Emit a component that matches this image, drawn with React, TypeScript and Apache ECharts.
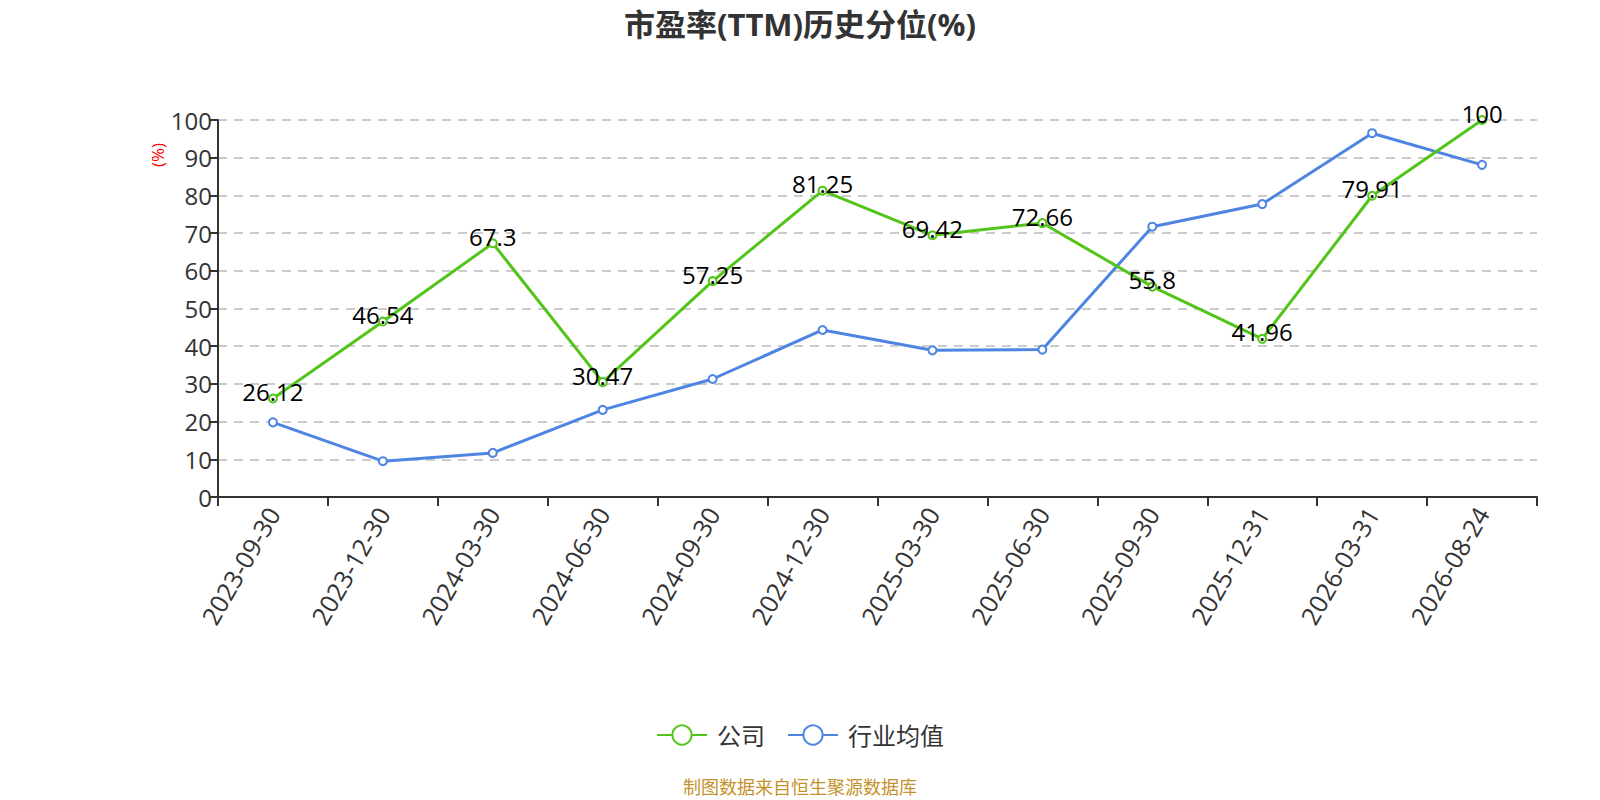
import React, { useEffect, useRef } from "react";
import * as echarts from "echarts";

const categories = [
  "2023-09-30", "2023-12-30", "2024-03-30", "2024-06-30", "2024-09-30", "2024-12-30",
  "2025-03-30", "2025-06-30", "2025-09-30", "2025-12-31", "2026-03-31", "2026-08-24",
];
const companyValues = [26.12, 46.54, 67.3, 30.47, 57.25, 81.25, 69.42, 72.66, 55.8, 41.96, 79.91, 100];
const industryValues = [19.8, 9.5, 11.7, 23.1, 31.3, 44.3, 38.9, 39.1, 71.7, 77.7, 96.5, 88.1];
const seriesNames = ["公司", "行业均值"];
const titleText = "市盈率(TTM)历史分位(%)";
const footerText = "制图数据来自恒生聚源数据库";

const FONT = "'Open Sans', 'Noto Sans CJK SC', sans-serif";

export default function App() {
  const ref = useRef<HTMLDivElement>(null);
  useEffect(() => {
    document.body.style.margin = "0";
    document.body.style.overflow = "hidden";
    if (!ref.current) return;
    const chart = echarts.init(ref.current, undefined, { renderer: "svg" });
    chart.setOption({
      animation: false,
      textStyle: { fontFamily: FONT },
      title: {
        text: titleText,
        left: "center",
        top: 3,
        textStyle: { fontSize: 31, fontWeight: "bold", color: "#333", fontFamily: FONT },
      },
      legend: {
        top: 718,
        left: "center",
        itemWidth: 50,
        itemHeight: 24,
        itemGap: 22,
        textStyle: { fontSize: 24, color: "#333", fontFamily: FONT, padding: [0, 0, 0, 5] },
        data: seriesNames,
      },
      grid: { left: 218, right: 63, top: 120, bottom: 303 },
      xAxis: {
        type: "category",
        data: categories,
        boundaryGap: true,
        axisLine: { lineStyle: { color: "#333", width: 2 } },
        axisTick: { show: true, length: 9, lineStyle: { color: "#333", width: 2 } },
        axisLabel: { rotate: 60, fontSize: 25, color: "#333", margin: 12, fontFamily: FONT },
      },
      yAxis: {
        type: "value",
        min: 0,
        max: 100,
        interval: 10,
        axisLine: { show: true, lineStyle: { color: "#333", width: 2 } },
        axisTick: { show: true, length: 9, lineStyle: { color: "#333", width: 2 } },
        axisLabel: { fontSize: 24, color: "#333", margin: 6, fontFamily: FONT },
        splitLine: { show: true, lineStyle: { type: [9, 7], color: "#ccc", width: 2 } },
      },
      graphic: [
        {
          type: "text",
          x: 157,
          y: 155,
          rotation: Math.PI / 2,
          style: { text: "(%)", fill: "#ff0000", fontSize: 17, fontFamily: FONT, textAlign: "center", textVerticalAlign: "middle" },
        },
        {
          type: "text",
          x: 800,
          y: 787,
          style: { text: footerText, fill: "#c4922b", fontSize: 18, fontFamily: FONT, textAlign: "center", textVerticalAlign: "middle" },
        },
      ],
      series: [
        {
          name: seriesNames[0],
          type: "line",
          data: companyValues,
          symbol: "emptyCircle",
          symbolSize: 8,
          lineStyle: { width: 3, color: "#52c41a" },
          itemStyle: { color: "#52c41a", borderWidth: 2 },
          label: {
            show: true,
            position: "top",
            distance: -10,
            fontSize: 24,
            color: "#000",
            fontFamily: FONT,
          },
          z: 3,
        },
        {
          name: seriesNames[1],
          type: "line",
          data: industryValues,
          symbol: "emptyCircle",
          symbolSize: 8,
          lineStyle: { width: 3, color: "#4e85e3" },
          itemStyle: { color: "#4e85e3", borderWidth: 2 },
          z: 2,
        },
      ],
    });
    return () => chart.dispose();
  }, []);
  return <div ref={ref} style={{ width: 1600, height: 800 }} />;
}
